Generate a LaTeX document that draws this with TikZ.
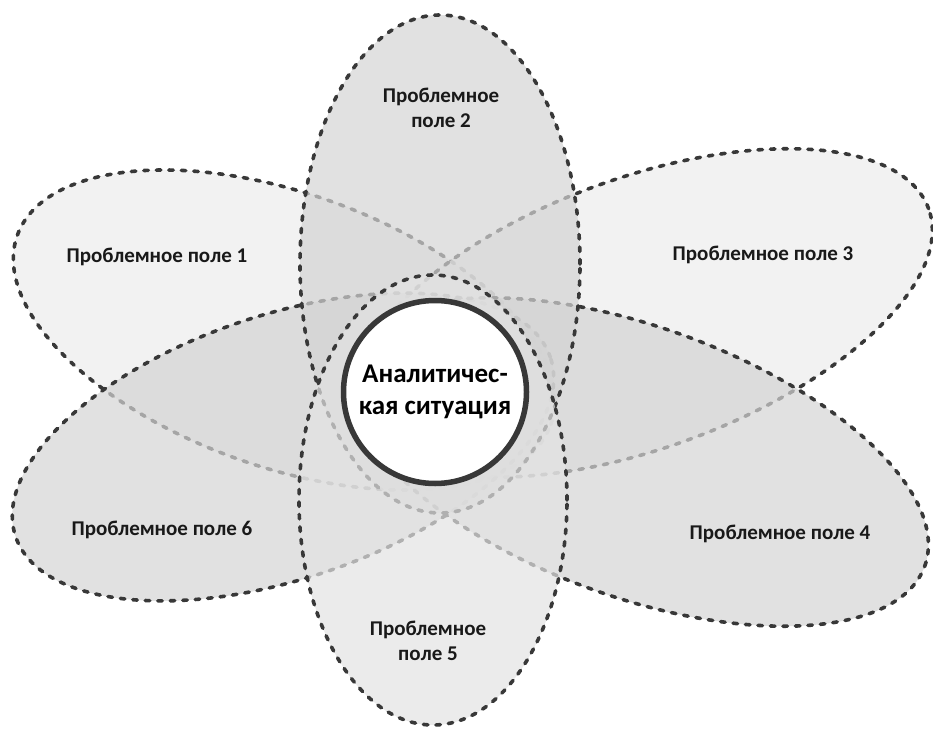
\documentclass[tikz,border=0pt]{standalone}
\usepackage{fontspec}
\setmainfont{Carlito}
\usetikzlibrary{shapes.geometric}

\definecolor{fieldlight}{gray}{0.927}
\definecolor{fieldmid}{gray}{0.889}
\definecolor{fielddark}{gray}{0.83}
\definecolor{outline}{gray}{0.22}

\begin{document}
\begin{tikzpicture}[x=1pt,y=-1pt]
    \tikzstyle{petal} = [ellipse, draw=outline, line width=3.6pt, dash pattern=on 4.5pt off 8pt, line cap=round, fill opacity=0.7, inner sep=0pt]
    \tikzstyle{hub} = [circle, draw=outline, line width=5.5pt, fill=white, minimum size=183pt, inner sep=0pt, align=center, font=\bfseries\fontsize{27}{32}\selectfont]
    \tikzstyle{caption} = [align=center, text=black!90, font=\bfseries\fontsize{21}{25}\selectfont]

    \useasboundingbox (0,0) rectangle (933,730);

    % petals, lowest first
    \node (field1) [petal, fill=fieldlight, minimum width=566pt, minimum height=274pt, rotate=-19.5] at (284,330) {};
    \node (field3) [petal, fill=fieldlight, minimum width=610pt, minimum height=270pt, rotate=20] at (642,313) {};
    \node (field6) [petal, fill=fielddark, minimum width=564pt, minimum height=264pt, rotate=18.5] at (283,447) {};
    \node (field4) [petal, fill=fielddark, minimum width=612pt, minimum height=270pt, rotate=-19.9] at (637,462) {};
    \node (field2) [petal, fill=fielddark, minimum width=280pt, minimum height=498pt] at (440,264) {};
    \node (field5) [petal, fill=fieldmid, minimum width=268pt, minimum height=450pt] at (433,500) {};

    \node (situation) [hub] at (435,392) {Аналитичес-\\кая ситуация};

    \node (label1) [caption] at (157,257) {Проблемное поле 1};
    \node (label2) [caption] at (441,108) {Проблемное\\поле 2};
    \node (label3) [caption] at (763,255) {Проблемное поле 3};
    \node (label4) [caption] at (780,534) {Проблемное поле 4};
    \node (label5) [caption] at (428,641) {Проблемное\\поле 5};
    \node (label6) [caption] at (162,530) {Проблемное поле 6};
\end{tikzpicture}
\end{document}
